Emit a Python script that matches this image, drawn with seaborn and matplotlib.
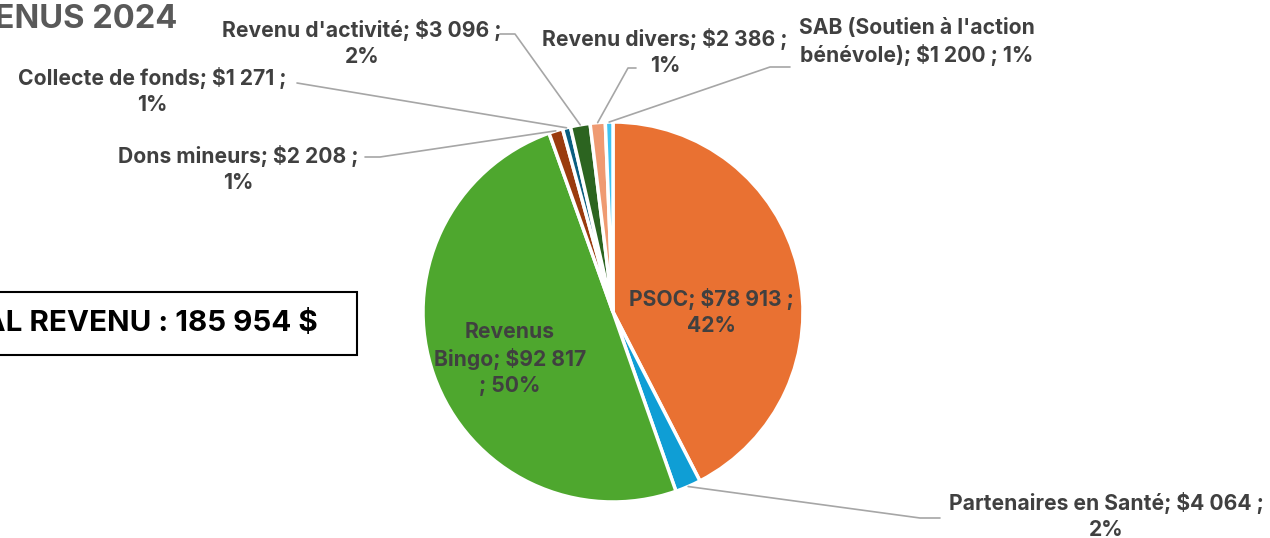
import numpy as np
import matplotlib
matplotlib.use("Agg")
import matplotlib.pyplot as plt
from matplotlib.lines import Line2D
from matplotlib.patches import Rectangle
import seaborn as sns

sns.set_theme(style="white")
plt.rcParams['font.family'] = ['Inter', 'DejaVu Sans']

# ---- data ----
categories = ["PSOC", "Partenaires en Santé", "Revenus Bingo", "Dons mineurs",
              "Collecte de fonds", "Revenu d'activité", "Revenu divers",
              "SAB (Soutien à l'action bénévole)"]
values = [78913, 4064, 92817, 2208, 1271, 3096, 2386, 1200]
label_texts = ["PSOC; $78 913 ;\n42%",
               "Partenaires en Santé; $4 064 ;\n2%",
               "Revenus\nBingo; $92 817\n; 50%",
               "Dons mineurs; $2 208 ;\n1%",
               "Collecte de fonds; $1 271 ;\n1%",
               "Revenu d'activité; $3 096 ;\n2%",
               "Revenu divers; $2 386 ;\n1%",
               "SAB (Soutien à l'action\nbénévole); $1 200 ; 1%"]
title_text = "REVENUS 2024"
total_text = "TOTAL REVENU : 185 954 $"

colors = ["#E97132", "#0F9ED5", "#4EA72E", "#9A3B0E", "#0A5E80",
          "#2C6420", "#EF9A72", "#3DC3F2"]

W, H = 1270, 538
fig = plt.figure(figsize=(W / 100, H / 100), dpi=100)
fig.patch.set_facecolor("white")

def fx(x, y):
    return (x / W, 1 - y / H)

cx, cy, R = 613, 312, 190
ax = fig.add_axes([(cx - R) / W, 1 - (cy + R) / H, 2 * R / W, 2 * R / H])
wedges, _ = ax.pie(values, colors=colors, startangle=90, counterclock=False,
                   wedgeprops=dict(edgecolor="white", linewidth=2.5))
ax.set_xlim(-1, 1)
ax.set_ylim(-1, 1)
ax.set_aspect("equal")
ax.axis("off")

txt_color = "#404040"
fs = 15.2
# label centre positions (pixels)
label_pos = [(711, 312), (1106, 516), (510, 359), (238, 169), (152, 91),
             (362, 43), (665, 52), (917, 42)]
for t, (x, y) in zip(label_texts, label_pos):
    fig.text(*fx(x, y), t, ha="center", va="center", fontsize=fs,
             fontweight="bold", color=txt_color, linespacing=1.35)

# leader lines: label-side points (pixels), then wedge mid-point
leaders = {
    1: [(940, 518), (920, 518)],
    3: [(365, 157), (380, 157)],
    4: [(297, 83)],
    5: [(500, 34), (515, 34)],
    6: [(636, 68), (628, 68)],
    7: [(790, 67), (770, 67)],
}
fig.canvas.draw()
inv = fig.transFigure.inverted()
for i, pts in leaders.items():
    w = wedges[i]
    mid = np.deg2rad((w.theta1 + w.theta2) / 2)
    p = ax.transData.transform((np.cos(mid) * 1.0, np.sin(mid) * 1.0))
    pf = inv.transform(p)
    xs = [fx(*q)[0] for q in pts] + [pf[0]]
    ys = [fx(*q)[1] for q in pts] + [pf[1]]
    fig.add_artist(Line2D(xs, ys, transform=fig.transFigure, color="#A6A6A6", lw=1.2))

# title (clipped at left)
fig.text(*fx(177, 19), title_text, ha="right", va="center", fontsize=23.5,
         fontweight="bold", color="#595959")

# total box
x0, y0 = fx(-10, 355)
x1, y1 = fx(357, 292)
fig.add_artist(Rectangle((x0, y0), x1 - x0, y1 - y0, transform=fig.transFigure,
                         facecolor="white", edgecolor="black", lw=1.5))
fig.text(*fx(318, 323), total_text, ha="right", va="center", fontsize=21.3,
         fontweight="bold", color="black")

fig.savefig("out.png", dpi=100, facecolor="white")
